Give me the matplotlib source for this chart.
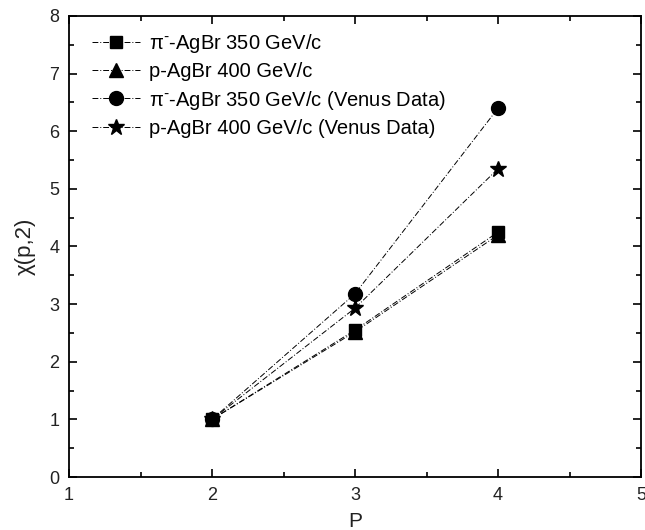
import matplotlib
matplotlib.use("Agg")
import matplotlib.pyplot as plt
from matplotlib.ticker import MultipleLocator

plt.rcParams['font.family'] = ['Liberation Sans', 'DejaVu Sans']

# data
p = [2, 3, 4]
pi_agbr = [1.0, 2.55, 4.25]
p_agbr = [1.0, 2.52, 4.20]
pi_venus = [1.0, 3.18, 6.40]
p_venus = [1.0, 2.93, 5.35]

labels = ["π$^{\u2010}$-AgBr 350 GeV/c",
          "p-AgBr 400 GeV/c",
          "π$^{\u2010}$-AgBr 350 GeV/c (Venus Data)",
          "p-AgBr 400 GeV/c (Venus Data)"]
series = [pi_agbr, p_agbr, pi_venus, p_venus]
markers = ['s', '^', 'o', '*']
sizes = [9, 10, 10, 12]

fig = plt.figure(figsize=(6.45, 5.30), dpi=100)
ax = fig.add_axes([0.107, 0.10, 0.887, 0.87])

for ys, lab, m, ms in zip(series, labels, markers, sizes):
    ax.plot(p, ys, color='black', linestyle=(0, (6, 2, 1, 2)), linewidth=0.7,
            marker=m, markersize=ms, markerfacecolor='black',
            markeredgecolor='black', label=lab)

ax.set_xlim(1, 5)
ax.set_ylim(0, 8)
ax.xaxis.set_major_locator(MultipleLocator(1))
ax.xaxis.set_minor_locator(MultipleLocator(0.5))
ax.yaxis.set_major_locator(MultipleLocator(1))
ax.yaxis.set_minor_locator(MultipleLocator(0.5))
ax.tick_params(which='both', direction='in', top=True, right=True,
               width=1.2, labelsize=13, labelcolor='#222222', pad=7)
ax.tick_params(which='major', length=6)
ax.tick_params(which='minor', length=3.5)
for s in ax.spines.values():
    s.set_linewidth(1.3)

ax.set_xlabel("P", fontsize=15, labelpad=6, color='#222222')
ax.set_ylabel("χ(p,2)", fontsize=16, labelpad=10, color='#222222')

ax.legend(loc='upper left', frameon=False, fontsize=14.5, handlelength=2.4,
          handletextpad=0.45, labelspacing=0.36, borderaxespad=0.4,
          bbox_to_anchor=(0.012, 1.0))

fig.savefig("out.png", dpi=100)
